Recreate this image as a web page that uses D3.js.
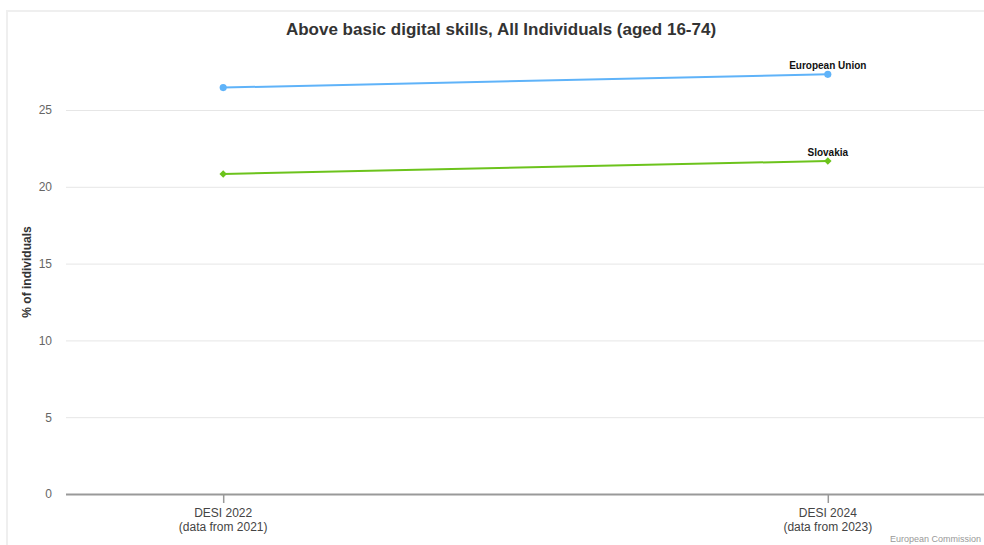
<!DOCTYPE html>
<html>
<head>
<meta charset="utf-8">
<script src="https://cdn.jsdelivr.net/npm/d3@7"></script>
<style>
  html, body { margin: 0; padding: 0; background: #fff; }
  svg { display: block; font-family: "Liberation Sans", Arial, Helvetica, sans-serif; }
</style>
</head>
<body>
<svg id="chart" width="984" height="545"></svg>
<script>
// Periods on the x axis (two text lines each)
const periods = ["DESI 2022", "DESI 2024"];
const periodNotes = ["(data from 2021)", "(data from 2023)"];

// Share of individuals with above basic digital skills (%)
const euValues = [26.46, 27.32];
const skValues = [20.84, 21.68];

const seriesNames = ["European Union", "Slovakia"];
const yTicks = [0, 5, 10, 15, 20, 25];

const svg = d3.select("#chart");
const W = 984, H = 545;

// outer frame
svg.append("rect")
  .attr("x", 7).attr("y", 11)
  .attr("width", W + 10).attr("height", H + 10)
  .attr("fill", "#fff").attr("stroke", "#efefef").attr("stroke-width", 2);

const plot = { left: 66, right: 985, top: 50, bottom: 494 };

const x = d3.scalePoint()
  .domain(periods)
  .range([plot.left, plot.right])
  .padding(0.26);

const y = d3.scaleLinear()
  .domain([0, 25])
  .range([plot.bottom, 110]);

// title
svg.append("text")
  .attr("x", 501).attr("y", 35)
  .attr("text-anchor", "middle")
  .attr("font-size", 17).attr("font-weight", "bold")
  .attr("fill", "#333")
  .text("Above basic digital skills, All Individuals (aged 16-74)");

// horizontal gridlines
const yAxis = d3.axisLeft(y)
  .tickValues(yTicks)
  .tickSize(-(plot.right - plot.left))
  .tickPadding(14)
  .tickFormat(d3.format("d"));

const gy = svg.append("g")
  .attr("transform", `translate(${plot.left},0)`)
  .call(yAxis);
gy.select(".domain").remove();
gy.selectAll(".tick line").attr("stroke", "#e6e6e6").attr("stroke-width", 1);
gy.selectAll(".tick text")
  .attr("fill", "#666").attr("font-size", 12)
  .attr("font-family", "\"Liberation Sans\", Arial, sans-serif");

// y axis title
svg.append("text")
  .attr("transform", `translate(31,${(plot.bottom + 50) / 2}) rotate(-90)`)
  .attr("text-anchor", "middle")
  .attr("font-size", 12).attr("font-weight", "bold")
  .attr("fill", "#333")
  .text("% of individuals");

// x axis
const xAxis = d3.axisBottom(x).tickSize(9).tickFormat("");
const gx = svg.append("g")
  .attr("transform", `translate(0,${plot.bottom})`)
  .call(xAxis);
gx.select(".domain")
  .attr("d", `M${plot.left},0.5H${plot.right}`)
  .attr("stroke", "#999").attr("stroke-width", 2);
gx.selectAll(".tick line").attr("stroke", "#999").attr("stroke-width", 1.5);

const xl = svg.append("g");
periods.forEach((p, i) => {
  const t = xl.append("text")
    .attr("x", x(p)).attr("y", plot.bottom + 23)
    .attr("text-anchor", "middle")
    .attr("font-size", 12).attr("fill", "#444");
  t.append("tspan").attr("x", x(p)).text(p);
  t.append("tspan").attr("x", x(p)).attr("dy", 14).text(periodNotes[i]);
});

// series
const series = [
  { name: seriesNames[0], values: euValues, color: "#5fb3f9", marker: "circle" },
  { name: seriesNames[1], values: skValues, color: "#6cc31c", marker: "diamond" }
];

const line = d3.line()
  .x((d, i) => x(periods[i]))
  .y(d => y(d));

series.forEach(s => {
  svg.append("path")
    .datum(s.values)
    .attr("fill", "none")
    .attr("stroke", s.color)
    .attr("stroke-width", 2)
    .attr("d", line);

  const sym = d3.symbol()
    .type(s.marker === "circle" ? d3.symbolCircle : d3.symbolDiamond2)
    .size(s.marker === "circle" ? 40 : 36);

  svg.selectAll(null)
    .data(s.values)
    .join("path")
    .attr("transform", (d, i) => `translate(${x(periods[i])},${y(d)})`)
    .attr("d", sym)
    .attr("fill", s.color);

  const last = s.values.length - 1;
  svg.append("text")
    .attr("x", x(periods[last]))
    .attr("y", y(s.values[last]) - 5)
    .attr("text-anchor", "middle")
    .attr("font-size", 10).attr("font-weight", "bold")
    .attr("fill", "#111")
    .attr("stroke", "#fff").attr("stroke-width", 2).attr("paint-order", "stroke")
    .text(s.name);
});

// credit
svg.append("text")
  .attr("x", 981).attr("y", 542)
  .attr("text-anchor", "end")
  .attr("font-size", 9).attr("fill", "#999")
  .text("European Commission");
</script>
</body>
</html>
